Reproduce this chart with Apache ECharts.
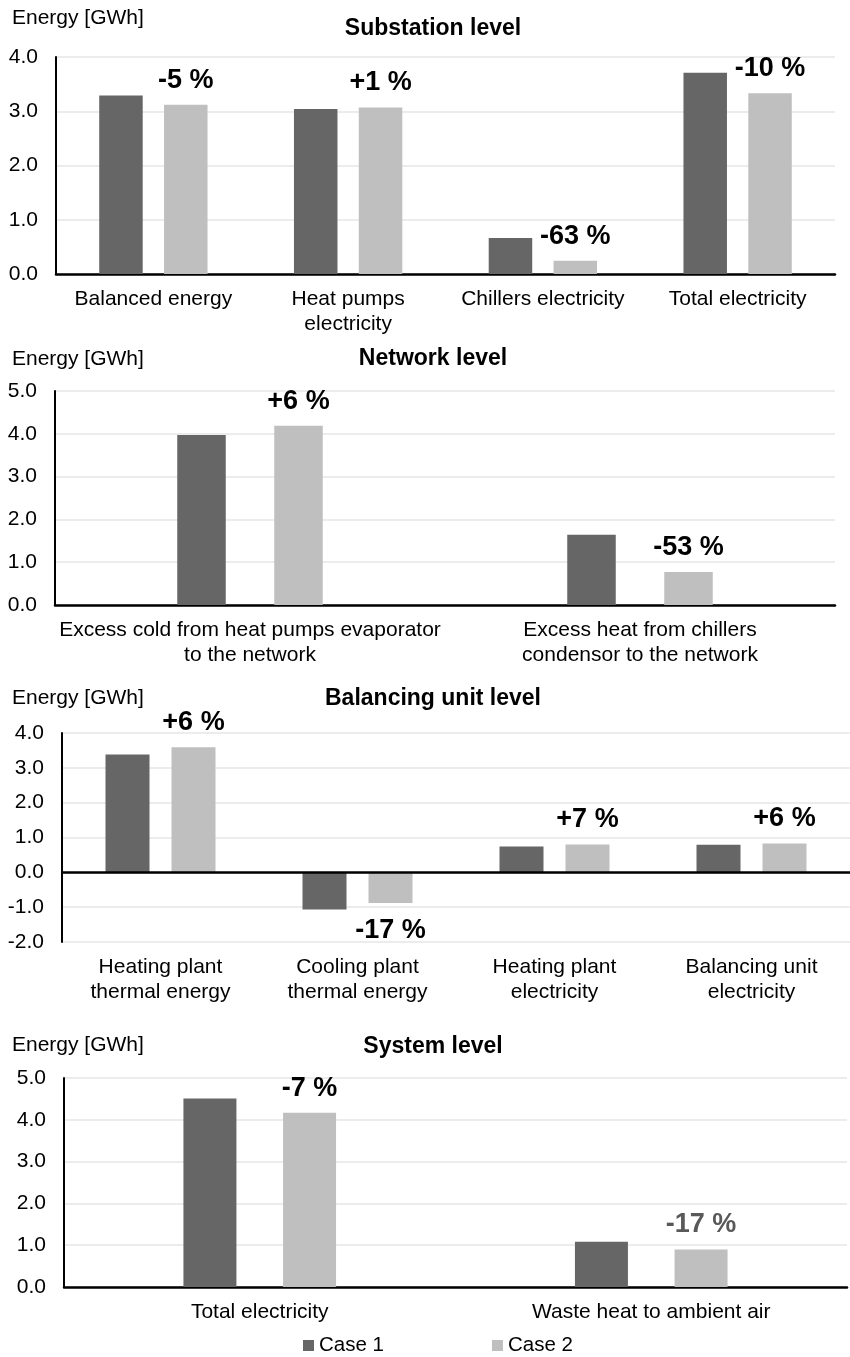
<!DOCTYPE html>
<html>
<head>
<meta charset="utf-8">
<script src="https://cdn.jsdelivr.net/npm/echarts@6/dist/echarts.min.js"></script>
<style>html,body{margin:0;padding:0;background:#fff}#c{width:850px;height:1357px}</style>
</head>
<body>
<div id="c"></div>
<script>
// ---- data ----
const titles = ['Substation level', 'Network level', 'Balancing unit level', 'System level'];
const yName = 'Energy [GWh]';
const seriesNames = ['Case 1', 'Case 2'];

const catsSub = ['Balanced energy', 'Heat pumps\nelectricity', 'Chillers electricity', 'Total electricity'];
const case1Sub = [3.29, 3.04, 0.665, 3.71];
const case2Sub = [3.12, 3.07, 0.246, 3.33];
const pctSub = ['-5 %', '+1 %', '-63 %', '-10 %'];
const ticksSub = [0, 1, 2, 3, 4];

const catsNet = ['Excess cold from heat pumps evaporator\nto the network', 'Excess heat from chillers\ncondensor to the network'];
const case1Net = [3.97, 1.64];
const case2Net = [4.19, 0.77];
const pctNet = ['+6 %', '-53 %'];
const ticksNet = [0, 1, 2, 3, 4, 5];

const catsBal = ['Heating plant\nthermal energy', 'Cooling plant\nthermal energy', 'Heating plant\nelectricity', 'Balancing unit\nelectricity'];
const case1Bal = [3.38, -1.07, 0.745, 0.79];
const case2Bal = [3.59, -0.88, 0.80, 0.83];
const pctBal = ['+6 %', '-17 %', '+7 %', '+6 %'];
const ticksBal = [-2, -1, 0, 1, 2, 3, 4];

const catsSys = ['Total electricity', 'Waste heat to ambient air'];
const case1Sys = [4.51, 1.08];
const case2Sys = [4.17, 0.90];
const pctSys = ['-7 %', '-17 %'];
const ticksSys = [0, 1, 2, 3, 4, 5];

// ---- layout / style ----
const FONT = "'Liberation Sans', Arial, Helvetica, sans-serif";
const C1 = '#666666', C2 = '#bfbfbf';
const panels = [
  {cats: catsSub, a: case1Sub, b: case2Sub, pct: pctSub, ticks: ticksSub,
   grid: {left: 56, right: 15, top: 57, height: 217}, bw: 43.5, gap: '49%', titleY: 29, nameY: 18},
  {cats: catsNet, a: case1Net, b: case2Net, pct: pctNet, ticks: ticksNet,
   grid: {left: 55, right: 15, top: 391, height: 214}, bw: 48.5, gap: '100%', titleY: 359, nameY: 359},
  {cats: catsBal, a: case1Bal, b: case2Bal, pct: pctBal, ticks: ticksBal,
   grid: {left: 62, right: -4, top: 733, height: 209}, bw: 44, gap: '50%', titleY: 699, nameY: 698, zeroLine: true},
  {cats: catsSys, a: case1Sys, b: case2Sys, pct: pctSys, ticks: ticksSys,
   grid: {left: 64, right: 3, top: 1078, height: 209}, bw: 53, gap: '88%', titleY: 1047, nameY: 1045,
   labelColors: ['#000000', '#595959']}
];

const grids = [], xAxes = [], yAxes = [], series = [], graphics = [];
panels.forEach((p, i) => {
  grids.push(Object.assign({containLabel: false}, p.grid));
  xAxes.push({
    type: 'category', gridIndex: i, data: p.cats,
    axisLine: p.zeroLine ? {show: false, onZero: false} : {show: true, onZero: true, lineStyle: {color: '#000', width: 2.5}},
    axisTick: {show: false},
    axisLabel: {interval: 0, margin: 13, color: '#000', fontFamily: FONT, fontSize: 21, lineHeight: 25, align: 'center'}
  });
  const t = p.ticks;
  yAxes.push({
    type: 'value', gridIndex: i, min: t[0], max: t[t.length - 1], interval: t[1] - t[0],
    axisLine: {show: true, onZero: false, lineStyle: {color: '#000', width: 2}},
    axisTick: {show: false},
    splitLine: {show: true, lineStyle: {color: '#ececec', width: 2}},
    axisLabel: {margin: 18, color: '#000', fontFamily: FONT, fontSize: 21, formatter: v => v.toFixed(1)}
  });
  const s1 = {
    name: seriesNames[0], type: 'bar', xAxisIndex: i, yAxisIndex: i, data: p.a,
    barWidth: p.bw, barGap: p.gap, itemStyle: {color: C1}
  };
  if (p.zeroLine) {
    s1.markLine = {silent: true, symbol: 'none', label: {show: false},
      lineStyle: {color: '#000', width: 2.5, type: 'solid'}, data: [{yAxis: 0}]};
  }
  series.push(s1);
  series.push({
    name: seriesNames[1], type: 'bar', xAxisIndex: i, yAxisIndex: i,
    barWidth: p.bw, barGap: p.gap, itemStyle: {color: C2},
    data: p.b.map((v, j) => ({
      value: v,
      label: {
        show: true, position: v < 0 ? 'bottom' : 'top', distance: v < 0 ? 14 : 11,
        color: p.labelColors ? p.labelColors[j] : '#000'
      }
    })),
    label: {show: true, fontFamily: FONT, fontSize: 27, fontWeight: 'bold',
      formatter: params => p.pct[params.dataIndex]}
  });
  graphics.push({type: 'text', x: 433, y: p.titleY, silent: true,
    style: {text: titles[i], fill: '#000', font: 'bold 23px ' + FONT, align: 'center', verticalAlign: 'middle'}});
  graphics.push({type: 'text', x: 12, y: p.nameY, silent: true,
    style: {text: yName, fill: '#000', font: '21px ' + FONT, align: 'left', verticalAlign: 'middle'}});
});

const chart = echarts.init(document.getElementById('c'), null, {renderer: 'canvas'});
chart.setOption({
  animation: false,
  backgroundColor: '#ffffff',
  grid: grids, xAxis: xAxes, yAxis: yAxes, series: series,
  graphic: graphics,
  legend: {
    data: seriesNames, left: 303, top: 1335, padding: 0, icon: 'rect', itemWidth: 11, itemHeight: 11, itemGap: 108,
    textStyle: {fontFamily: FONT, fontSize: 20.5, color: '#000'}
  },
  tooltip: {show: false}
});
</script>
</body>
</html>
